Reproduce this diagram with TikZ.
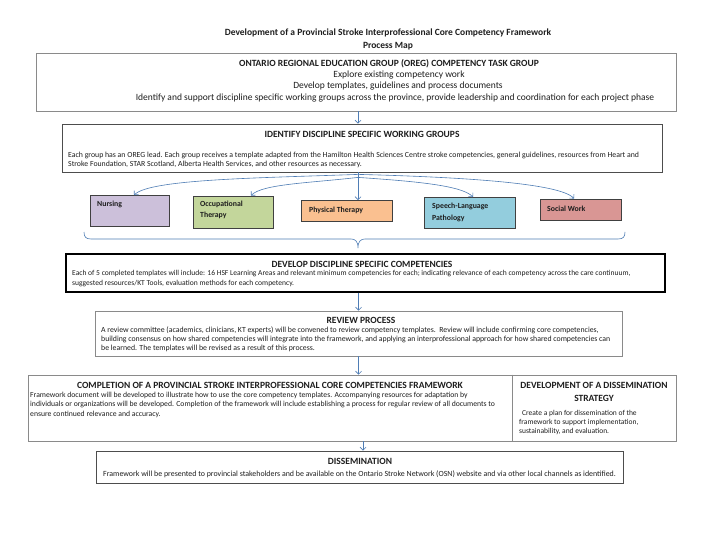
\documentclass[tikz,border=0pt]{standalone}
\usepackage{fontspec}
\setmainfont{Carlito}
\usetikzlibrary{arrows.meta,calc}
\definecolor{linkblue}{HTML}{4F7DB5}
\definecolor{frgray}{HTML}{8A8A8A}
\definecolor{frdark}{HTML}{4D4D4D}
\definecolor{txt}{HTML}{1E1E1E}
\definecolor{cnurse}{HTML}{CCC0DA}
\definecolor{cot}{HTML}{C3D69B}
\definecolor{cpt}{HTML}{FAC090}
\definecolor{cslp}{HTML}{93CDDD}
\definecolor{csw}{HTML}{D99694}
\begin{document}
\begin{tikzpicture}[x=1pt,y=-1pt,
  panel/.style={draw=#1, line width=0.8pt, fill=white, inner sep=0pt},
  maintitle/.style={font=\fontsize{9.5}{10}\bfseries\selectfont, text=txt, inner sep=0pt},
  ttl/.style={font=\fontsize{9.5}{10}\bfseries\selectfont, text=txt, inner sep=0pt},
  bodyA/.style={font=\fontsize{9.5}{10}\selectfont, text=txt, inner sep=0pt},
  bodyB/.style={font=\fontsize{#1}{10}\selectfont, text=txt, inner sep=0pt, anchor=west},
  disc/.style={draw=black!75, line width=0.8pt, fill=#1, inner sep=0pt},
  disctxt/.style={font=\fontsize{7.8}{9}\bfseries\selectfont, text=txt, inner sep=0pt, anchor=west},
  conn/.style={draw=linkblue, line width=0.6pt, -{Straight Barb[length=3pt,width=6pt]}}
]
\useasboundingbox (0,0) rectangle (720,540);
\fill[white] (0,0) rectangle (720,540);

% title
\node[maintitle] (t1) at (388,33) {Development of a Provincial Stroke Interprofessional Core Competency Framework};
\node[maintitle] (t2) at (388,46) {Process Map};

% box 1
\node[panel=frgray, minimum width=640pt, minimum height=58pt] (b1) at (356,82) {};
\node[ttl] (b1t) at (389,64) {ONTARIO REGIONAL EDUCATION GROUP (OREG) COMPETENCY TASK GROUP};
\node[bodyA] (b1a) at (399,75) {Explore existing competency work};
\node[bodyA] (b1b) at (398,86) {Develop templates, guidelines and process documents};
\node[bodyA] (b1c) at (395,98) {Identify and support discipline specific working groups across the province, provide leadership and coordination for each project phase};

% box 2
\node[panel=frdark, minimum width=600pt, minimum height=48pt] (b2) at (362,148) {};
\node[ttl] (b2t) at (362,134) {IDENTIFY DISCIPLINE SPECIFIC WORKING GROUPS};
\node[bodyB=7.8] (b2a) at (68,155) {Each group has an OREG lead. Each group receives a template adapted from the Hamilton Health Sciences Centre stroke competencies, general guidelines, resources from Heart and};
\node[bodyB=7.8] (b2b) at (68,164.5) {Stroke Foundation, STAR Scotland, Alberta Health Services, and other resources as necessary.};

% discipline boxes
\node[disc=cnurse, minimum width=79pt, minimum height=31pt] (nurs) at (130,211) {};
\node[disctxt] (nurst) at (97,204) {Nursing};
\node[disc=cot, minimum width=80pt, minimum height=32pt] (ot) at (233,212) {};
\node[disctxt] (ota) at (200,204) {Occupational};
\node[disctxt] (otb) at (200,215.5) {Therapy};
\node[disc=cpt, minimum width=91pt, minimum height=21pt] (pt) at (347,211) {};
\node[disctxt] (ptt) at (309,210.5) {Physical Therapy};
\node[disc=cslp, minimum width=91pt, minimum height=31pt] (slp) at (470,213) {};
\node[disctxt] (slpa) at (432,206) {Speech-Language};
\node[disctxt] (slpb) at (432,218) {Pathology};
\node[disc=csw, minimum width=81pt, minimum height=21pt] (sw) at (581,209.5) {};
\node[disctxt] (swt) at (547,208.5) {Social Work};

% fan connectors
\coordinate (fan) at ([xshift=-4pt]b2.south);
\draw[conn] (fan) -- ([xshift=11pt]pt.north);
\draw[conn] ([yshift=-2pt]fan) .. controls (260,178) and (150,179) .. ([xshift=4pt]nurs.north);
\draw[conn] ([yshift=-5pt]fan) .. controls (310,183) and (262,184) .. ([xshift=18pt]ot.north);
\draw[conn] ([yshift=-5pt]fan) .. controls (410,181) and (462,185) .. ([xshift=3pt]slp.north);
\draw[conn] ([yshift=-2pt]fan) .. controls (460,177) and (560,183) .. ([xshift=-7pt]sw.north);

% brace
\draw[linkblue, line width=0.6pt] (84,232) .. controls (84,237) and (86,239) .. (91,239) -- (351,239)
  .. controls (355,239) and (358,241) .. (358,248) .. controls (358,241) and (361,239) .. (365,239)
  -- (618,239) .. controls (623,239) and (625,237) .. (625,232);

% box 3
\node[panel=black, line width=1.3pt, minimum width=599pt, minimum height=38pt] (b3) at (365.5,273) {};
\node[ttl] (b3t) at (362,264) {DEVELOP DISCIPLINE SPECIFIC COMPETENCIES};
\node[bodyB=7.55] (b3a) at (72,274) {Each of 5 completed templates will include: 16 HSF Learning Areas and relevant minimum competencies for each; indicating relevance of each competency across the care continuum,};
\node[bodyB=7.55] (b3b) at (72,284) {suggested resources/KT Tools, evaluation methods for each competency.};

% box 4
\node[panel=frgray, minimum width=527pt, minimum height=45pt] (b4) at (358.5,333.5) {};
\node[ttl] (b4t) at (361,320) {REVIEW PROCESS};
\node[bodyB=7.8] (b4a) at (101,330) {A review committee (academics, clinicians, KT experts) will be convened to review competency templates.\ \ Review will include confirming core competencies,};
\node[bodyB=7.8] (b4b) at (101,339) {building consensus on how shared competencies will integrate into the framework, and applying an interprofessional approach for how shared competencies can};
\node[bodyB=7.8] (b4c) at (101,348) {be learned. The templates will be revised as a result of this process.};

% box 5
\node[panel=frgray, minimum width=648pt, minimum height=66pt] (b5) at (352,408) {};
\draw[frgray, line width=0.8pt] ($(b5.north west)+(485,0)$) -- ($(b5.south west)+(485,0)$);
\node[ttl] (b5t) at (270,385) {COMPLETION OF A PROVINCIAL STROKE INTERPROFESSIONAL CORE COMPETENCIES FRAMEWORK};
\node[bodyB=7.7] (b5a) at (30,395) {Framework document will be developed to illustrate how to use the core competency templates. Accompanying resources for adaptation by};
\node[bodyB=7.7] (b5b) at (30,404.5) {individuals or organizations will be developed. Completion of the framework will include establishing a process for regular review of all documents to};
\node[bodyB=7.7] (b5c) at (30,414) {ensure continued relevance and accuracy.};
\node[ttl] (b5rt) at (594,385) {DEVELOPMENT OF A DISSEMINATION};
\node[ttl] (b5rt2) at (594,398) {STRATEGY};
\node[bodyB=7.5] (b5ra) at (522,413) {Create a plan for dissemination of the};
\node[bodyB=7.5] (b5rb) at (519,422) {framework to support implementation,};
\node[bodyB=7.5] (b5rc) at (519,431) {sustainability, and evaluation.};

% box 6
\node[panel=frdark, minimum width=527pt, minimum height=32pt] (b6) at (359.5,467) {};
\node[ttl] (b6t) at (360,461) {DISSEMINATION};
\node[bodyB=7.9] (b6a) at (103,474) {Framework will be presented to provincial stakeholders and be available on the Ontario Stroke Network (OSN) website and via other local channels as identified.};

% vertical connectors
\draw[conn] ([xshift=2pt]b1.south) -- ([xshift=2pt]b1.south |- b2.north);
\draw[conn] (b3.south -| b4.north) -- (b4.north);
\draw[conn] (b4.south) -- (b4.south |- b5.north);
\draw[conn] ([xshift=11pt]b5.south) -- ([xshift=11pt]b5.south |- b6.north);
\end{tikzpicture}
\end{document}
